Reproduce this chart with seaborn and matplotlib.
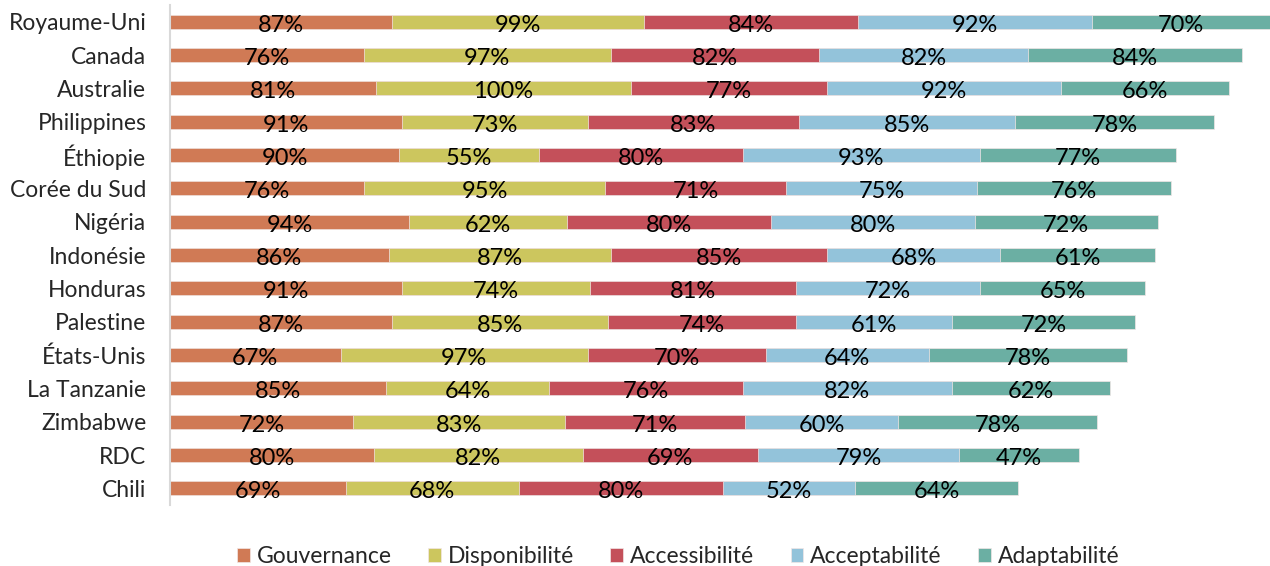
import numpy as np
import pandas as pd
import seaborn as sns
import matplotlib.pyplot as plt

pays = ["Royaume-Uni", "Canada", "Australie", "Philippines", "Éthiopie",
        "Corée du Sud", "Nigéria", "Indonésie", "Honduras", "Palestine",
        "États-Unis", "La Tanzanie", "Zimbabwe", "RDC", "Chili"]
series = ["Gouvernance", "Disponibilité", "Accessibilité", "Acceptabilité", "Adaptabilité"]
gouvernance = [87, 76, 81, 91, 90, 76, 94, 86, 91, 87, 67, 85, 72, 80, 69]
disponibilite = [99, 97, 100, 73, 55, 95, 62, 87, 74, 85, 97, 64, 83, 82, 68]
accessibilite = [84, 82, 77, 83, 80, 71, 80, 85, 81, 74, 70, 76, 71, 69, 80]
acceptabilite = [92, 82, 92, 85, 93, 75, 80, 68, 72, 61, 64, 82, 60, 79, 52]
adaptabilite = [70, 84, 66, 78, 77, 76, 72, 61, 65, 72, 78, 62, 78, 47, 64]
couleurs = ["#D07A55", "#CCC65E", "#C4505A", "#93C3DA", "#6BAFA3"]

sns.set_style("white")
plt.rcParams['font.family'] = ['Lato', 'DejaVu Sans']

df = pd.DataFrame({"pays": pays, "Gouvernance": gouvernance, "Disponibilité": disponibilite,
                   "Accessibilité": accessibilite, "Acceptabilité": acceptabilite,
                   "Adaptabilité": adaptabilite})
cum = df[series].cumsum(axis=1)

fig = plt.figure(figsize=(12.7, 5.66), dpi=100)
ax = fig.add_axes([170 / 1270, 61 / 566, 1100 / 1270, 500 / 566])

# stacked bars: draw cumulative totals from the last series to the first
for s, c in reversed(list(zip(series, couleurs))):
    sns.barplot(x=cum[s], y=df["pays"], color=c, width=0.42, ax=ax, saturation=1,
                orient="h", label=s, edgecolor="#F2E6E6", linewidth=0.5)

for j, s in enumerate(series):
    left = cum[s] - df[s]
    for i, v in enumerate(df[s]):
        ax.text(left[i] + v / 2, i + 0.1, f"{v}%", ha="center", va="center",
                fontsize=17, color="black")

ax.set_xlim(0, 432)
ax.set_ylim(14.5, -0.5)
ax.set_xlabel("")
ax.set_ylabel("")
ax.set_xticks([])
ax.tick_params(axis="y", length=0, pad=17, labelsize=16.5)
for sp in ["top", "right", "bottom"]:
    ax.spines[sp].set_visible(False)
ax.spines["left"].set_color("#D9D9D9")
ax.spines["left"].set_linewidth(1.5)

handles, labels = ax.get_legend_handles_labels()
order = [labels.index(s) for s in series]
ax.legend([handles[k] for k in order], series, loc="lower center", ncol=5,
          bbox_to_anchor=(0.462, -0.165), frameon=False, fontsize=16.5,
          handlelength=0.55, handleheight=0.55, handletextpad=0.3, columnspacing=1.6)

fig.savefig("out.png", dpi=100)
